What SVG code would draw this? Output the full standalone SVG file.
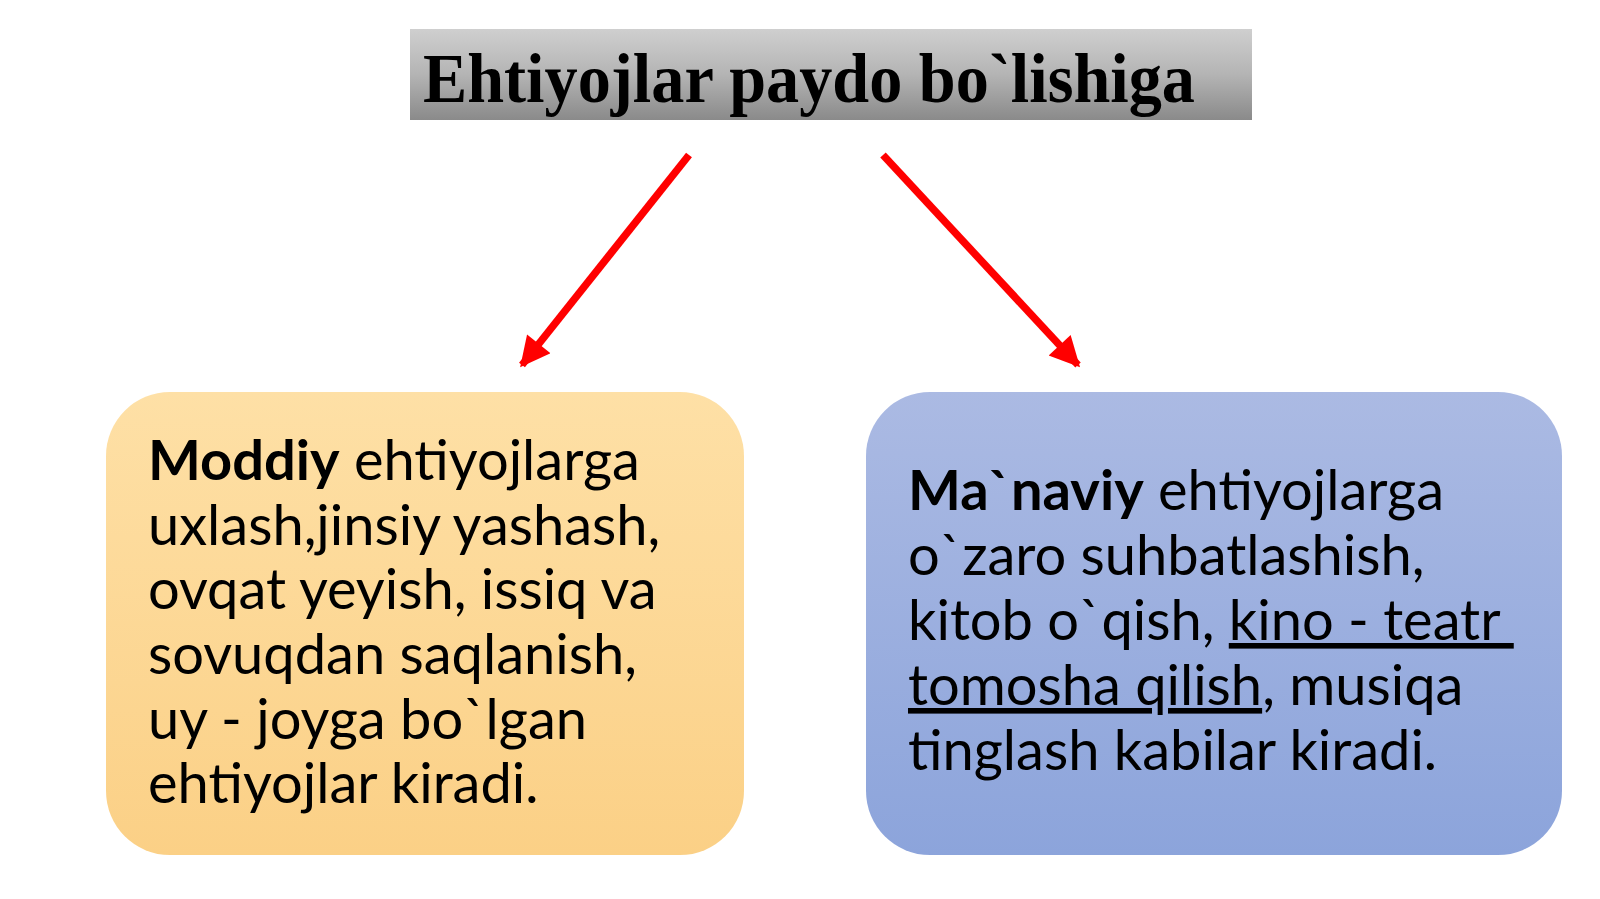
<svg xmlns="http://www.w3.org/2000/svg" width="1600" height="899" viewBox="0 0 1600 899">
<defs>
<linearGradient id="gTitle" x1="0" y1="0" x2="0" y2="1">
<stop offset="0" stop-color="#cfcfcf"/>
<stop offset="0.5" stop-color="#b4b4b4"/>
<stop offset="1" stop-color="#8a8a8a"/>
</linearGradient>
<linearGradient id="gOrange" x1="0" y1="0" x2="0" y2="1">
<stop offset="0" stop-color="#fee0a6"/>
<stop offset="1" stop-color="#fbd086"/>
</linearGradient>
<linearGradient id="gBlue" x1="0" y1="0" x2="0" y2="1">
<stop offset="0" stop-color="#abbae3"/>
<stop offset="1" stop-color="#8ca4db"/>
</linearGradient>
<marker id="ah" viewBox="0 0 10 10" refX="9" refY="5" markerWidth="4.3" markerHeight="4" orient="auto" markerUnits="strokeWidth">
<path d="M0,0 L10,5 L0,10 Z" fill="#ff0000"/>
</marker>
<style>
.title{font-family:"Liberation Serif","Times New Roman",serif;font-weight:bold;fill:#000}
.body{font-family:Lato,"Noto Sans",sans-serif;font-size:56px;fill:#000}
.b{font-weight:bold}
.conn{stroke:#ff0000;stroke-width:7.5;fill:none;marker-end:url(#ah)}
</style>
</defs>
<rect width="1600" height="899" fill="#fff"/>
<g id="title">
<rect x="410" y="29" width="842" height="91" fill="url(#gTitle)"/>
<text class="title" x="423" y="102" font-size="70" textLength="772" lengthAdjust="spacingAndGlyphs">Ehtiyojlar paydo bo`lishiga</text>
</g>
<g id="connectors">
<line class="conn" x1="689" y1="155" x2="522" y2="365"/>
<line class="conn" x1="883" y1="155" x2="1078" y2="365"/>
</g>
<g id="moddiy">
<rect x="106" y="392" width="638" height="463" rx="64" fill="url(#gOrange)"/>
<text class="body">
<tspan x="148" y="480"><tspan class="b">Moddiy</tspan> ehtiyojlarga</tspan>
<tspan x="148" y="544.5">uxlash,jinsiy yashash,</tspan>
<tspan x="148" y="609">ovqat yeyish, issiq va</tspan>
<tspan x="148" y="673.5">sovuqdan saqlanish,</tspan>
<tspan x="148" y="738.5">uy - joyga bo`lgan</tspan>
<tspan x="148" y="803">ehtiyojlar kiradi.</tspan>
</text>
</g>
<g id="manaviy">
<rect x="866" y="392" width="696" height="463" rx="64" fill="url(#gBlue)"/>
<text class="body">
<tspan x="908" y="510"><tspan class="b">Ma`naviy</tspan> ehtiyojlarga</tspan>
<tspan x="908" y="574.5">o`zaro suhbatlashish,</tspan>
<tspan x="908" y="640">kitob o`qish, <tspan text-decoration="underline">kino - teatr </tspan></tspan>
<tspan x="908" y="705"><tspan text-decoration="underline">tomosha qilish</tspan>, musiqa</tspan>
<tspan x="908" y="770">tinglash kabilar kiradi.</tspan>
</text>
</g>
</svg>
